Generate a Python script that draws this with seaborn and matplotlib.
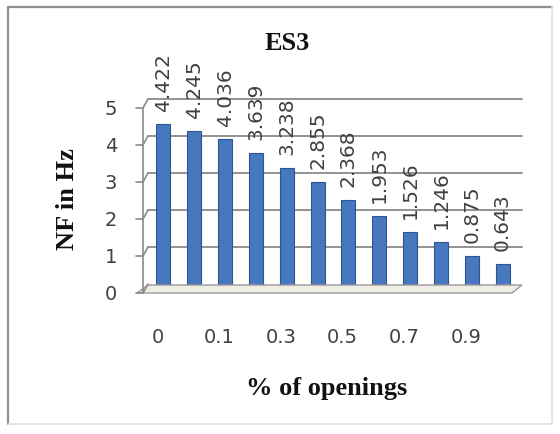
import matplotlib
matplotlib.use("Agg")
import matplotlib.pyplot as plt
import seaborn as sns
import pandas as pd
from matplotlib import transforms as mtrans
from matplotlib.lines import Line2D
from matplotlib.patches import Polygon

# ---- data ----
categories = ["0", "0.05", "0.1", "0.2", "0.3", "0.4", "0.5", "0.6", "0.7", "0.8", "0.9", "1"]
nf_values = [4.422, 4.245, 4.036, 3.639, 3.238, 2.855, 2.368, 1.953, 1.526, 1.246, 0.875, 0.643]
value_labels = ["4.422", "4.245", "4.036", "3.639", "3.238", "2.855", "2.368", "1.953",
                "1.526", "1.246", "0.875", "0.643"]
y_ticks = [0, 1, 2, 3, 4, 5]
title_text = "ES3"
x_title = "% of openings"
y_title = "NF in Hz"

sns.set_theme(style="white")
plt.rcParams["font.family"] = ["DejaVu Sans"]

W, H = 560, 435
fig = plt.figure(figsize=(W / 100, H / 100), dpi=100)
fig.patch.set_facecolor("white")
ax = fig.add_axes([148 / W, (H - 289) / H, 370 / W, 185 / H])

df = pd.DataFrame({"opening": categories, "nf": nf_values})
sns.barplot(data=df, x="opening", y="nf", order=categories, color="#4677bf",
            saturation=1, width=0.45, edgecolor="#2d568f", linewidth=0.8, ax=ax, zorder=3)

ax.set_xlim(-0.5, len(categories) - 0.5)
ax.set_ylim(y_ticks[0], y_ticks[-1])
ax.set_xticks([])
ax.set_yticks([])
ax.set_xlabel("")
ax.set_ylabel("")
for s in ax.spines.values():
    s.set_visible(False)
ax.patch.set_alpha(0)

blend_y = mtrans.blended_transform_factory(ax.transAxes, ax.transData)
blend_x = mtrans.blended_transform_factory(ax.transData, ax.transAxes)


def off(tr, dx, dy):
    return mtrans.offset_copy(tr, fig=fig, x=dx, y=dy, units="dots")


def P(xf, yv, dx=0, dy=0):
    x, y = blend_y.transform((xf, yv))
    return x + dx, y + dy


ident = mtrans.IdentityTransform()
grid_col = "#8a8a8a"

# back-wall gridlines
for v in y_ticks[1:]:
    ax.plot([0, 1.011], [v, v], transform=off(blend_y, 0, 4), color=grid_col,
            lw=1.3, zorder=0.5, clip_on=False)

# floor
floor = [P(0, 0, 0, 3), P(1, 0, 4, 3), P(1, 0, -6, -5), P(0, 0, -11, -5)]
fig.add_artist(Polygon(floor, closed=True, transform=ident, facecolor="#efece4",
                       edgecolor="#9a9a9a", lw=1.0, zorder=0.6))

# front vertical axis + ticks
a0 = P(0, y_ticks[0], -5, -5)
a1 = P(0, y_ticks[-1], -5, -5)
fig.add_artist(Line2D([a0[0], a1[0]], [a0[1], a1[1]], transform=ident, color=grid_col, lw=1.2))
for v in y_ticks:
    p1 = P(0, v, -12, -5)
    p2 = P(0, v, -5, -5)
    p3 = P(0, v, 0, 4)
    fig.add_artist(Line2D([p1[0], p2[0], p3[0]], [p1[1], p2[1], p3[1]], transform=ident,
                          color=grid_col, lw=1.2))

# y tick labels
for v in y_ticks:
    ax.text(0, v, str(v), transform=off(blend_y, -31, -6), ha="right", va="center",
            fontsize=14, color="#404040")

# x tick labels (every other category)
for i, cat in enumerate(categories):
    if i % 2 == 0:
        ax.text(i, 0, cat, transform=off(blend_x, -6, -49), ha="center", va="center",
                fontsize=14, color="#404040")

# data labels
for i, (v, lab) in enumerate(zip(nf_values, value_labels)):
    ax.annotate(lab, (i, v), xytext=(0, 10), textcoords="offset points", rotation=90,
                ha="center", va="bottom", fontsize=14.5, color="#404040", zorder=5)

serif = ["Liberation Serif", "DejaVu Serif"]
fig.text(287 / W, 1 - 44 / H, title_text, ha="center", va="center", fontsize=19,
         fontweight="bold", family=serif, color="#111111")
fig.text(68 / W, 1 - 199 / H, y_title, rotation=90, ha="center", va="center", fontsize=19,
         fontweight="bold", family=serif, color="#111111")
fig.text(327 / W, 1 - 395 / H, x_title, ha="center", va="baseline", fontsize=19,
         fontweight="bold", family=serif, color="#111111")

# chart border
fig.add_artist(Line2D([8 / W, 8 / W, 552 / W], [1 - 425 / H, 1 - 8 / H, 1 - 8 / H],
                      transform=fig.transFigure, color="#8f8f8f", lw=1.6))
fig.add_artist(Line2D([8 / W, 552 / W, 552 / W], [1 - 425 / H, 1 - 425 / H, 1 - 8 / H],
                      transform=fig.transFigure, color="#e0e0e0", lw=1.2))

fig.savefig("out.png", dpi=100)
